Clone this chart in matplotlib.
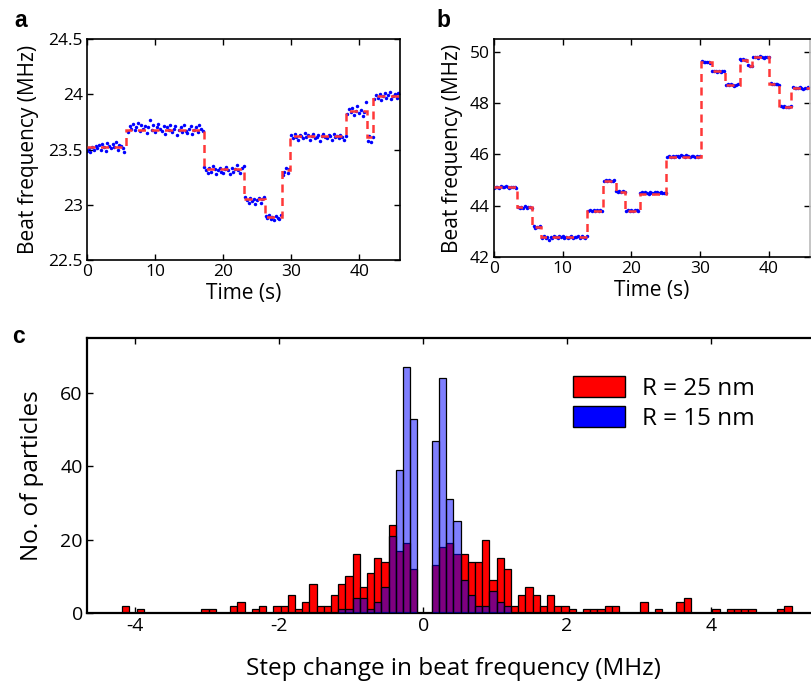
"""Beat-frequency traces (a, b) and histogram of step changes (c)."""
import matplotlib
matplotlib.use('Agg')
import matplotlib.pyplot as plt
from matplotlib.patches import Patch
import numpy as np

plt.rcParams['font.family'] = ['Open Sans', 'DejaVu Sans']
plt.rcParams['axes.unicode_minus'] = False

SAMPLE_DT = 0.25  # s between plotted samples

# ---- panel a: trace with steps ----
a_step_edges = [0, 5.8, 17.2, 23.1, 26.1, 28.6, 29.9, 38.0, 41.1, 42.1, 46]
a_step_levels = [23.52, 23.68, 23.32, 23.05, 22.89, 23.31, 23.62, 23.85, 23.61, 23.98]
a_seg_start = [0.0, 6.0, 17.25, 23.25, 26.25, 28.75, 30.0, 38.25, 41.25, 42.25]
a_seg_values = [
    [23.49, 23.51, 23.48, 23.52, 23.50, 23.53, 23.51, 23.54, 23.50, 23.55, 23.52, 23.49,
     23.56, 23.53, 23.51, 23.55, 23.52, 23.57, 23.50, 23.54, 23.53, 23.51, 23.48],
    [23.66, 23.71, 23.69, 23.73, 23.68, 23.70, 23.74, 23.67, 23.72, 23.69, 23.71, 23.65,
     23.70, 23.77, 23.68, 23.72, 23.66, 23.70, 23.73, 23.69, 23.67, 23.71, 23.64, 23.70,
     23.68, 23.72, 23.66, 23.69, 23.71, 23.63, 23.68, 23.70, 23.66, 23.72, 23.67, 23.65,
     23.69, 23.71, 23.64, 23.68, 23.70, 23.66, 23.72, 23.69, 23.67],
    [23.34, 23.31, 23.29, 23.33, 23.30, 23.35, 23.32, 23.28, 23.31, 23.33, 23.30, 23.29,
     23.32, 23.34, 23.31, 23.28, 23.33, 23.30, 23.32, 23.36, 23.31, 23.29, 23.33, 23.35],
    [23.07, 23.04, 23.02, 23.06, 23.03, 23.05, 23.01, 23.04, 23.06, 23.02, 23.05, 23.07],
    [22.90, 22.88, 22.91, 22.87, 22.89, 22.86, 22.90, 22.88, 22.87, 22.91],
    [23.27, 23.30, 23.33, 23.29, 23.32],
    [23.63, 23.60, 23.64, 23.61, 23.59, 23.63, 23.62, 23.60, 23.65, 23.61, 23.63, 23.59,
     23.62, 23.64, 23.60, 23.61, 23.63, 23.58, 23.62, 23.64, 23.61, 23.60, 23.63, 23.62,
     23.59, 23.64, 23.61, 23.62, 23.60, 23.63, 23.61, 23.59, 23.62],
    [23.82, 23.87, 23.84, 23.88, 23.81, 23.85, 23.89, 23.83, 23.86, 23.80, 23.84, 23.93],
    [23.58, 23.62, 23.57, 23.61],
    [23.96, 23.99, 23.97, 24.00, 23.95, 23.98, 24.01, 23.97, 23.99, 24.02, 23.96, 23.98,
     24.00, 23.97, 24.01],
]

# ---- panel b: trace with steps ----
b_step_edges = [0, 3.4, 5.5, 6.8, 13.6, 15.8, 17.7, 19.0, 21.2, 25.0, 30.2, 31.7,
                33.6, 35.75, 36.8, 37.5, 40.1, 41.5, 43.3, 46]
b_step_levels = [44.72, 43.94, 43.17, 42.78, 43.81, 44.98, 44.54, 43.81, 44.47, 45.91,
                 49.61, 49.25, 48.71, 49.70, 49.45, 49.79, 48.74, 47.85, 48.58]
b_seg_start = [0.0, 3.5, 5.75, 7.0, 13.75, 16.0, 17.75, 19.25, 21.25, 25.25, 30.25,
               31.75, 33.75, 35.75, 37.0, 37.75, 40.25, 41.75, 43.5]
b_seg_values = [
    [44.70, 44.74, 44.72, 44.69, 44.75, 44.73, 44.71, 44.76, 44.72, 44.70, 44.74, 44.71,
     44.73, 44.69],
    [43.96, 43.92, 43.95, 43.93, 43.97, 43.91, 43.94, 43.96, 43.92],
    [43.19, 43.15, 43.18, 43.16, 43.20],
    [42.76, 42.80, 42.74, 42.79, 42.68, 42.77, 42.75, 42.81, 42.78, 42.73, 42.80, 42.77,
     42.82, 42.76, 42.79, 42.74, 42.78, 42.81, 42.75, 42.79, 42.77, 42.80, 42.76, 42.82,
     42.78, 42.75, 42.80],
    [43.79, 43.83, 43.80, 43.84, 43.78, 43.82, 43.80, 43.83, 43.79],
    [44.96, 45.00, 44.97, 45.01, 44.98, 44.95, 44.99],
    [44.57, 44.53, 44.56, 44.54, 44.58, 44.52],
    [43.78, 43.83, 43.80, 43.84, 43.79, 43.82, 43.85, 43.80],
    [44.48, 44.52, 44.49, 44.53, 44.50, 44.47, 44.54, 44.51, 44.49, 44.55, 44.52, 44.48,
     44.53, 44.50, 44.51, 44.49],
    [45.90, 45.93, 45.89, 45.94, 45.91, 45.95, 45.92, 45.90, 45.96, 45.93, 45.91, 45.97,
     45.94, 45.90, 45.95, 45.92, 45.89, 45.93, 45.91, 45.94],
    [49.63, 49.60, 49.62, 49.59, 49.61, 49.58],
    [49.27, 49.24, 49.26, 49.23, 49.25, 49.22, 49.26, 49.24],
    [48.69, 48.73, 48.70, 48.74, 48.71, 48.68, 48.72, 48.75],
    [49.72, 49.69, 49.71, 49.68, 49.70],
    [49.47, 49.43, 49.46],
    [49.81, 49.78, 49.80, 49.77, 49.82, 49.79, 49.76, 49.80, 49.78, 49.81],
    [48.77, 48.74, 48.76, 48.73, 48.75, 48.72],
    [47.88, 47.85, 47.87, 47.84, 47.86, 47.83, 47.87],
    [48.61, 48.58, 48.60, 48.57, 48.62, 48.59, 48.56, 48.60, 48.58, 48.61],
]

# ---- panel c: histogram of step changes, bins of 0.1 MHz ----
hist_left = -4.18
hist_width = 0.1
red_counts = [
    2, 0, 1, 0, 0, 0, 0, 0, 0, 0,
    0, 1, 1, 0, 0, 2, 3, 0, 1, 2,
    0, 2, 2, 5, 1, 3, 8, 2, 2, 5,
    8, 10, 16, 7, 11, 15, 14, 24, 17, 19,
    12, 0, 0, 13, 18, 19, 16, 16, 14, 14,
    20, 9, 15, 12, 2, 5, 7, 5, 2, 5,
    2, 2, 1, 0, 1, 1, 1, 2, 2, 0,
    0, 0, 3, 0, 1, 0, 0, 3, 4, 0,
    0, 0, 1, 0, 1, 1, 1, 1, 0, 0,
    0, 1, 2,
]
blue_counts = [
    0, 0, 0, 0, 0, 0, 0, 0, 0, 0,
    0, 0, 0, 0, 0, 0, 0, 0, 0, 0,
    0, 0, 0, 0, 0, 0, 0, 0, 0, 0,
    1, 1, 4, 4, 1, 3, 7, 21, 39, 67,
    53, 0, 0, 47, 64, 31, 25, 9, 5, 2,
    2, 6, 3, 2, 0, 0, 0, 0, 0, 0,
    0, 0, 0, 0, 0, 0, 0, 0, 0, 0,
    0, 0, 0, 0, 0, 0, 0, 0, 0, 0,
    0, 0, 0, 0, 0, 0, 0, 0, 0, 0,
    0, 0, 0,
]
legend_labels = ['R = 25 nm', 'R = 15 nm']

W, H = 811, 688


def px_axes(fig, left, top, right, bottom):
    return fig.add_axes([left / W, 1 - bottom / H, (right - left) / W, (bottom - top) / H])


def style_box(ax, labelsize):
    ax.tick_params(direction='in', length=4, width=1, top=True, right=True,
                   labelsize=labelsize, pad=3)
    for spine in ax.spines.values():
        spine.set_linewidth(1.2)


def draw_trace(ax, seg_start, seg_values, edges, levels):
    for t0, vals in zip(seg_start, seg_values):
        t = t0 + SAMPLE_DT * np.arange(len(vals))
        ax.plot(t, vals, '.', color='#0000ff', ms=5, mew=0, zorder=2)
    ax.stairs(levels, edges, baseline=None, color='#ff3838', lw=1.8,
              linestyle=(0, (3.2, 2.2)), zorder=3)


fig = plt.figure(figsize=(W / 100, H / 100), dpi=100)

# panel a
ax_a = px_axes(fig, 87, 39, 400, 260)
draw_trace(ax_a, a_seg_start, a_seg_values, a_step_edges, a_step_levels)
ax_a.set_xlim(0, 46)
ax_a.set_ylim(22.5, 24.5)
ax_a.set_xticks([0, 10, 20, 30, 40])
ax_a.set_yticks([22.5, 23, 23.5, 24, 24.5])
ax_a.set_yticklabels(['22.5', '23', '23.5', '24', '24.5'])
ax_a.set_xlabel('Time (s)', fontsize=15, labelpad=2)
ax_a.set_ylabel('Beat frequency (MHz)', fontsize=15, labelpad=7)
style_box(ax_a, 12.5)

# panel b
ax_b = px_axes(fig, 494, 39, 810, 257)
draw_trace(ax_b, b_seg_start, b_seg_values, b_step_edges, b_step_levels)
ax_b.set_xlim(0, 46)
ax_b.set_ylim(42, 50.5)
ax_b.set_xticks([0, 10, 20, 30, 40])
ax_b.set_yticks([42, 44, 46, 48, 50])
ax_b.set_xlabel('Time (s)', fontsize=15, labelpad=2)
ax_b.set_ylabel('Beat frequency (MHz)', fontsize=15, labelpad=5)
style_box(ax_b, 12.5)
ax_b.spines['right'].set_color('#bbbbbb')

# panel c
ax_c = px_axes(fig, 87, 338, 819, 613)
red = np.array(red_counts)
blue = np.array(blue_counts)
centers = hist_left + hist_width * (np.arange(len(red)) + 0.5)
ax_c.bar(centers[red > 0], red[red > 0], width=hist_width, color='#ff0000',
         edgecolor='black', linewidth=0.9, zorder=2)
ax_c.bar(centers[blue > 0], blue[blue > 0], width=hist_width, facecolor=(0, 0, 1, 0.5),
         edgecolor='black', linewidth=0.9, zorder=3)
ax_c.set_xlim(-4.67, 5.5)
ax_c.set_ylim(0, 75)
ax_c.set_xticks([-4, -2, 0, 2, 4])
ax_c.set_yticks([0, 20, 40, 60])
ax_c.set_xlabel('Step change in beat frequency (MHz)', fontsize=17.5, labelpad=16)
ax_c.set_ylabel('No. of particles', fontsize=17.5, labelpad=12)
style_box(ax_c, 14)
for spine in ax_c.spines.values():
    spine.set_linewidth(1.6)

handles = [Patch(facecolor='#ff0000', edgecolor='black', linewidth=1),
           Patch(facecolor='#0000ff', edgecolor='black', linewidth=1)]
fig.legend(handles, legend_labels, loc='upper left', bbox_to_anchor=(573 / W, 1 - 376 / H),
           frameon=False, fontsize=17.5, handlelength=2.15, handleheight=0.95,
           handletextpad=0.7, labelspacing=0.22, borderpad=0, borderaxespad=0)

# panel letters
for letter, x, y in [('a', 14, 9), ('b', 436, 9), ('c', 12, 325)]:
    fig.text(x / W, 1 - y / H, letter, fontsize=16.5, fontweight='bold',
             family='Liberation Sans', va='top', ha='left')

fig.savefig('out.png', dpi=100)
plt.close(fig)
